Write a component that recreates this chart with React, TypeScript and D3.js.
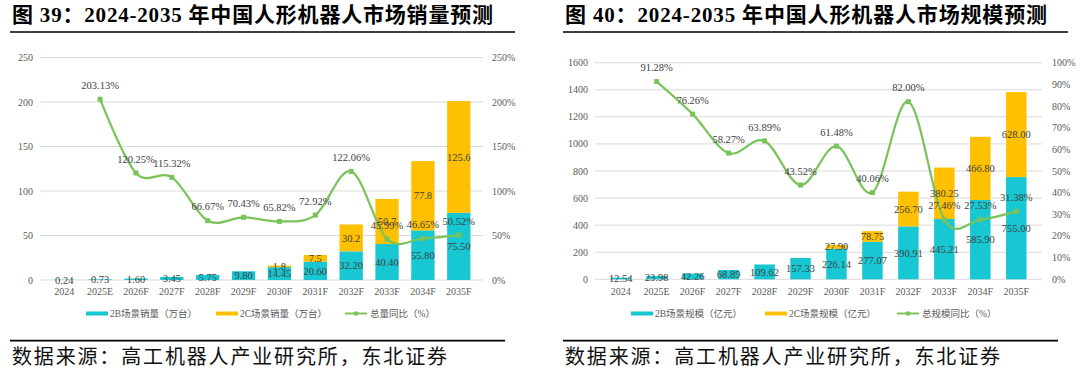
import React from 'react';
import * as d3 from 'd3';

// ---------- data ----------
const years = ['2024', '2025E', '2026F', '2027F', '2028F', '2029F', '2030F', '2031F', '2032F', '2033F', '2034F', '2035F'];

const sales2B = [0.24, 0.73, 1.6, 3.45, 5.75, 9.8, 14.45, 20.6, 32.2, 40.4, 55.8, 75.5];
const sales2C = [0, 0, 0, 0, 0, 0, 1.8, 7.5, 30.2, 50.7, 77.8, 125.6];
const salesGrowth = [null, 203.13, 120.25, 115.32, 66.67, 70.43, 65.82, 72.92, 122.06, 45.99, 46.65, 50.52];

const scale2B = [12.54, 23.98, 42.26, 68.89, 109.62, 157.33, 226.14, 277.07, 390.91, 445.21, 585.9, 755.0];
const scale2C = [0, 0, 0, 0, 0, 0, 27.9, 78.75, 256.7, 380.25, 466.8, 628.0];
const scaleGrowth = [null, 91.28, 76.26, 58.27, 63.89, 43.52, 61.48, 40.06, 82.0, 27.46, 27.53, 31.38];

const salesLeftTicks = [0, 50, 100, 150, 200, 250];
const salesRightTicks = [0, 50, 100, 150, 200, 250];
const scaleLeftTicks = [0, 200, 400, 600, 800, 1000, 1200, 1400, 1600];
const scaleRightTicks = [0, 10, 20, 30, 40, 50, 60, 70, 80, 90, 100];

const salesLegend = ['2B场景销量（万台）', '2C场景销量（万台）', '总量同比（%）'];
const scaleLegend = ['2B场景规模（亿元）', '2C场景规模（亿元）', '总规模同比（%）'];

const salesTitle = '图 39：2024-2035 年中国人形机器人市场销量预测';
const scaleTitle = '图 40：2024-2035 年中国人形机器人市场规模预测';
const sourceText = '数据来源：高工机器人产业研究所，东北证券';

// ---------- styles ----------
const CYAN = '#17C7D2';
const YELLOW = '#FFC000';
const GREEN = '#7AC35A';
const GRID = '#D9D9D9';
const TICK = '#595959';
const LABEL = '#404040';
const SERIF = '"Liberation Serif", "Noto Sans CJK SC", serif';

type Cfg = {
  b: number[];
  c: number[];
  g: (number | null)[];
  leftTicks: number[];
  rightTicks: number[];
  legend: string[];
  title: string;
  fmtB: string;
  fmtC: string;
  plotL: number;
  plotR: number;
  top: number;
  bottom: number;
  leftLabX: number;
  rightLabX: number;
  padding: number;
  titleX: number;
  titleLen: number;
  ruleX1: number;
  ruleX2: number;
  sourceX: number;
  legendX: number[];
};

function Chart({ cfg }: { cfg: Cfg }) {
  const x = d3.scaleBand<string>().domain(years).range([cfg.plotL, cfg.plotR]).padding(cfg.padding);
  const xc = (d: string) => (x(d) as number) + x.bandwidth() / 2;
  const yMax = cfg.leftTicks[cfg.leftTicks.length - 1];
  const rMax = cfg.rightTicks[cfg.rightTicks.length - 1];
  const y = d3.scaleLinear().domain([0, yMax]).range([cfg.bottom, cfg.top]);
  const yr = d3.scaleLinear().domain([0, rMax]).range([cfg.bottom, cfg.top]);
  const fB = d3.format(cfg.fmtB);
  const fC = d3.format(cfg.fmtC);

  const pts = years
    .map((yr_, i) => ({ yr: yr_, v: cfg.g[i] }))
    .filter((d) => d.v !== null) as { yr: string; v: number }[];
  const line = d3
    .line<{ yr: string; v: number }>()
    .x((d) => xc(d.yr))
    .y((d) => yr(d.v))
    .curve(d3.curveCardinal.tension(0));

  const legendY = 313.5;

  return (
    <g>
      {/* title */}
      <text
        x={cfg.titleX}
        y={22}
        fontFamily={SERIF}
        fontWeight={700}
        fontSize={21}
        fill="#000"
        textLength={cfg.titleLen}
        lengthAdjust="spacing"
      >
        {cfg.title}
      </text>
      <line x1={cfg.ruleX1} x2={cfg.ruleX2} y1={32} y2={32} stroke="#000" strokeWidth={1.6} />

      {/* grid */}
      {cfg.leftTicks.map((t) => (
        <line key={'g' + t} x1={cfg.plotL} x2={cfg.plotR} y1={y(t)} y2={y(t)} stroke={GRID} strokeWidth={1} />
      ))}
      {cfg.leftTicks.map((t) => (
        <text key={'l' + t} x={cfg.leftLabX} y={y(t)} dy="0.35em" textAnchor="end" fontFamily={SERIF} fontSize={10} fill={TICK}>
          {t}
        </text>
      ))}
      {cfg.rightTicks.map((t) => (
        <text key={'r' + t} x={cfg.rightLabX} y={yr(t)} dy="0.35em" textAnchor="start" fontFamily={SERIF} fontSize={10} fill={TICK}>
          {t + '%'}
        </text>
      ))}
      {years.map((d) => (
        <text key={'x' + d} x={xc(d)} y={291} dy="0.35em" textAnchor="middle" fontFamily={SERIF} fontSize={10} fill={TICK}>
          {d}
        </text>
      ))}

      {/* bars */}
      {years.map((d, i) => (
        <g key={'b' + d}>
          <rect x={x(d)} width={x.bandwidth()} y={y(cfg.b[i])} height={y(0) - y(cfg.b[i])} fill={CYAN} />
          {cfg.c[i] > 0 && (
            <rect
              x={x(d)}
              width={x.bandwidth()}
              y={y(cfg.b[i] + cfg.c[i])}
              height={y(cfg.b[i]) - y(cfg.b[i] + cfg.c[i])}
              fill={YELLOW}
            />
          )}
        </g>
      ))}

      {/* line */}
      <path d={line(pts) || ''} fill="none" stroke={GREEN} strokeWidth={2.2} />
      {pts.map((p) => (
        <rect key={'m' + p.yr} x={xc(p.yr) - 2.5} y={yr(p.v) - 2.5} width={5} height={5} fill={GREEN} />
      ))}

      {/* bar labels */}
      {years.map((d, i) => (
        <g key={'bl' + d}>
          <text x={xc(d)} y={y(cfg.b[i] / 2)} dy="0.35em" textAnchor="middle" fontFamily={SERIF} fontSize={10.5} fill={LABEL}>
            {fB(cfg.b[i])}
          </text>
          {cfg.c[i] > 0 && (
            <text
              x={xc(d)}
              y={y(cfg.b[i] + cfg.c[i] / 2)}
              dy="0.35em"
              textAnchor="middle"
              fontFamily={SERIF}
              fontSize={10.5}
              fill={LABEL}
            >
              {fC(cfg.c[i])}
            </text>
          )}
        </g>
      ))}
      {/* line labels */}
      {pts.map((p) => (
        <text
          key={'ll' + p.yr}
          x={xc(p.yr)}
          y={yr(p.v) - 14}
          dy="0.35em"
          textAnchor="middle"
          fontFamily={SERIF}
          fontSize={10.5}
          fill={LABEL}
        >
          {d3.format('.2f')(p.v) + '%'}
        </text>
      ))}

      {/* legend */}
      <rect x={cfg.legendX[0]} y={legendY - 2} width={22} height={4} fill={CYAN} />
      <text x={cfg.legendX[0] + 24} y={legendY} dy="0.35em" fontFamily={SERIF} fontSize={9.5} fill={TICK}>
        {cfg.legend[0]}
      </text>
      <rect x={cfg.legendX[1]} y={legendY - 2} width={22} height={4} fill={YELLOW} />
      <text x={cfg.legendX[1] + 24} y={legendY} dy="0.35em" fontFamily={SERIF} fontSize={9.5} fill={TICK}>
        {cfg.legend[1]}
      </text>
      <line x1={cfg.legendX[2]} x2={cfg.legendX[2] + 22} y1={legendY} y2={legendY} stroke={GREEN} strokeWidth={2} />
      <circle cx={cfg.legendX[2] + 11} cy={legendY} r={2.2} fill={GREEN} />
      <text x={cfg.legendX[2] + 25} y={legendY} dy="0.35em" fontFamily={SERIF} fontSize={9.5} fill={TICK}>
        {cfg.legend[2]}
      </text>

      {/* source */}
      <line x1={cfg.ruleX1} x2={cfg.ruleX2 - 10} y1={340.7} y2={340.7} stroke="#000" strokeWidth={1.8} />
      <text
        x={cfg.sourceX}
        y={364}
        fontFamily={SERIF}
        fontSize={20}
        fill="#111"
        textLength={435}
        lengthAdjust="spacing"
      >
        {sourceText}
      </text>
    </g>
  );
}

const leftCfg: Cfg = {
  b: sales2B,
  c: sales2C,
  g: salesGrowth,
  leftTicks: salesLeftTicks,
  rightTicks: salesRightTicks,
  legend: salesLegend,
  title: salesTitle,
  fmtB: '.2f',
  fmtC: '.1f',
  plotL: 40,
  plotR: 483,
  top: 57.5,
  bottom: 280,
  leftLabX: 33,
  rightLabX: 492,
  padding: 0.35,
  titleX: 12,
  titleLen: 481,
  ruleX1: 10,
  ruleX2: 515,
  sourceX: 12,
  legendX: [86, 216, 345],
};

const rightCfg: Cfg = {
  b: scale2B,
  c: scale2C,
  g: scaleGrowth,
  leftTicks: scaleLeftTicks,
  rightTicks: scaleRightTicks,
  legend: scaleLegend,
  title: scaleTitle,
  fmtB: '.2f',
  fmtC: '.2f',
  plotL: 595,
  plotR: 1042,
  top: 62.7,
  bottom: 279.3,
  leftLabX: 588,
  rightLabX: 1052,
  padding: 0.43,
  titleX: 565,
  titleLen: 482,
  ruleX1: 563,
  ruleX2: 1068,
  sourceX: 565,
  legendX: [631, 765, 897],
};

export default function App() {
  return (
    <svg
      width={1080}
      height={381}
      viewBox="0 0 1080 381"
      style={{ position: 'absolute', left: 0, top: 0, background: '#fff' }}
    >
      <rect width={1080} height={381} fill="#fff" />
      <Chart cfg={leftCfg} />
      <Chart cfg={rightCfg} />
    </svg>
  );
}
